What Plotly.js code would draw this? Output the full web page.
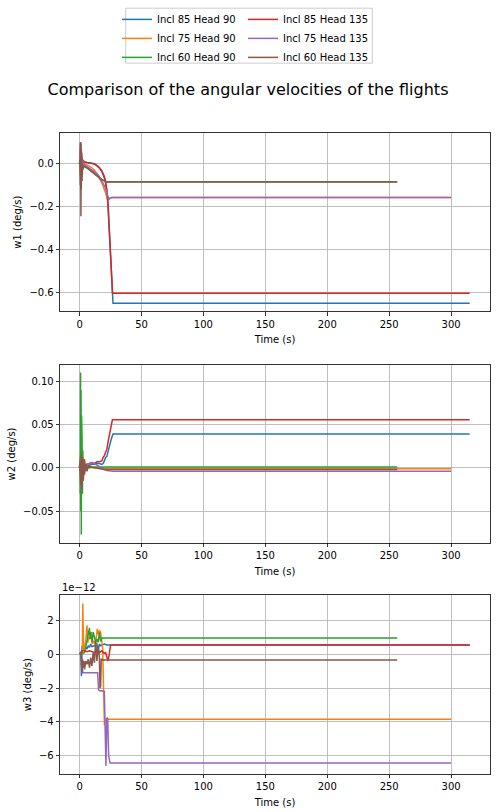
<!DOCTYPE html>
<html>
<head>
<meta charset="utf-8">
<script src="https://cdn.plot.ly/plotly-3.0.1.min.js"></script>
<style>
  html, body { margin: 0; padding: 0; background: #fff; }
  #chart { width: 496px; height: 812px; }
</style>
</head>
<body>
<div id="chart"></div>
<script>
/* values, one time array per curve */

const seriesNames = [
  'Incl 85 Head 90', 'Incl 75 Head 90', 'Incl 60 Head 90',
  'Incl 85 Head 135', 'Incl 75 Head 135', 'Incl 60 Head 135',
];
const seriesColors = ['#1f77b4', '#ff7f0e', '#2ca02c', '#d62728', '#9467bd', '#8c564b'];

// w1 (deg/s)
const w1Time85H90 = [0, 0.5, 0.9, 1.2, 1.5, 1.9, 2.4, 3, 4, 6, 8, 10, 12, 14, 16, 18, 20, 21, 22, 23, 24, 25, 26, 27, 315];
const w1Val85H90 = [0, 0.02, 0.09, -0.08, 0.05, -0.04, 0.02, 0.01, 0.008, 0.006, 0.004, 0.003, 0, -0.008, -0.018, -0.035, -0.065, -0.09, -0.13, -0.2, -0.31, -0.43, -0.55, -0.65, -0.65];
const w1Time75H90 = [0, 0.5, 1.0, 1.3, 1.6, 2.0, 2.5, 3, 4, 6, 8, 10, 12, 14, 16, 18, 20, 22, 23, 24, 25, 27, 300];
const w1Val75H90 = [0, 0.03, 0.09, -0.1, 0.04, -0.05, 0.01, 0, 0, -0.005, -0.012, -0.02, -0.03, -0.045, -0.065, -0.09, -0.12, -0.155, -0.17, -0.165, -0.16, -0.158, -0.158];
const w1Time60H90 = [0, 0.3, 0.6, 0.9, 1.1, 1.3, 1.5, 1.7, 2.0, 2.3, 2.7, 3.2, 4, 6, 8, 10, 12, 14, 16, 18, 20, 21.5, 256.5];
const w1Val60H90 = [0, 0.01, -0.05, 0.06, -0.12, 0.04, -0.06, 0.01, -0.03, -0.005, -0.015, -0.01, -0.012, -0.018, -0.028, -0.038, -0.048, -0.057, -0.065, -0.073, -0.08, -0.084, -0.084];
const w1Time85H135 = [0, 0.4, 0.8, 1.1, 1.4, 1.7, 2.0, 2.4, 3, 4, 6, 8, 10, 12, 14, 16, 18, 20, 21, 22, 23, 24, 25, 26, 26.6, 315];
const w1Val85H135 = [0, 0.01, 0.1, -0.12, 0.07, -0.06, 0.03, 0, 0.015, 0.008, 0.005, 0.003, 0.002, -0.002, -0.01, -0.02, -0.035, -0.06, -0.085, -0.12, -0.19, -0.3, -0.42, -0.54, -0.603, -0.603];
const w1Time75H135 = [0, 0.4, 0.8, 1.1, 1.4, 1.8, 2.2, 3, 4, 6.6, 9, 12, 15.3, 18, 20.6, 22.5, 23.6, 24.5, 25.5, 300];
const w1Val75H135 = [0, 0.02, 0.1, -0.09, 0.06, -0.04, 0.02, 0.003, -0.005, -0.016, -0.025, -0.038, -0.054, -0.08, -0.109, -0.145, -0.165, -0.16, -0.157, -0.157];
const w1Time60H135 = [0, 0.3, 0.6, 0.9, 1.1, 1.3, 1.5, 1.7, 2.0, 2.3, 2.7, 3.2, 4, 6, 8, 10, 12, 14, 16, 18, 20, 21.5, 256.5];
const w1Val60H135 = [0, 0.02, -0.1, 0.1, -0.245, 0.07, -0.15, 0.03, -0.08, 0, -0.03, -0.01, -0.015, -0.02, -0.03, -0.04, -0.05, -0.058, -0.066, -0.074, -0.081, -0.085, -0.085];

// w2 (deg/s)
const w2Time85H90 = [0, 0.5, 1, 1.5, 2, 2.5, 3, 4, 6, 8, 10, 12, 14, 16, 18, 19, 20, 21, 22, 23, 24, 25, 26, 27, 315];
const w2Val85H90 = [0, 0.005, -0.01, 0.01, -0.008, 0.005, 0, 0.002, 0.003, 0.003, 0.004, 0.004, 0.005, 0.005, 0.004, 0.005, 0.008, 0.012, 0.013, 0.02, 0.025, 0.03, 0.035, 0.039, 0.039];
const w2Time75H90 = [0, 0.5, 1, 1.5, 2, 2.5, 3, 4, 5, 6, 8, 10, 15, 20, 25, 300];
const w2Val75H90 = [0, 0.015, -0.02, 0.02, -0.01, 0.008, -0.005, 0.01, 0.003, 0.002, 0.001, 0, 0, -0.001, -0.001, -0.001];
const w2Time60H90 = [0, 0.3, 0.6, 0.8, 1.0, 1.2, 1.4, 1.6, 1.8, 2.0, 2.3, 2.6, 3, 3.5, 4, 5, 6, 8, 10, 15, 20, 25, 256.5];
const w2Val60H90 = [0, 0.01, -0.03, 0.11, -0.05, 0.09, -0.077, 0.06, -0.05, 0.038, -0.03, 0.02, -0.015, 0.01, -0.005, 0.004, -0.002, 0.002, 0.001, 0.001, 0.001, 0.001, 0.001];
const w2Time85H135 = [0, 0.5, 1, 1.5, 2, 2.5, 3, 4, 6, 8, 10, 12, 14, 16, 18, 19, 20, 21, 22, 23, 24, 25, 26, 26.5, 315];
const w2Val85H135 = [0, 0.005, -0.012, 0.01, -0.005, 0.004, 0.002, 0.003, 0.004, 0.005, 0.006, 0.005, 0.007, 0.007, 0.008, 0.012, 0.014, 0.018, 0.021, 0.03, 0.038, 0.045, 0.052, 0.0555, 0.0555];
const w2Time75H135 = [0, 0.5, 1, 1.5, 2, 2.5, 3, 4, 5, 6, 8, 10, 12, 15, 18, 20, 22, 25, 27, 300];
const w2Val75H135 = [0, 0.01, -0.01, 0.005, -0.027, 0.006, -0.01, 0.003, -0.002, 0.004, 0.005, 0.006, 0.005, 0.002, 0, -0.002, -0.003, -0.004, -0.004, -0.004];
const w2Time60H135 = [0, 0.5, 1, 1.5, 2, 2.5, 3, 3.5, 4, 5, 6, 7, 8, 10, 12, 15, 20, 25, 256.5];
const w2Val60H135 = [0, 0.008, -0.02, 0.015, -0.025, 0.012, -0.015, 0.01, -0.008, 0.005, -0.004, 0.003, 0, 0.001, 0, -0.001, -0.002, -0.002, -0.002];

// w3 in units of 1e-12 deg/s
const w3Time85H90 = [0, 1, 1.5, 2, 2.5, 3, 4, 5, 6, 7, 8, 9, 10, 12, 14, 15, 16, 17, 18, 20, 22, 315];
const w3Val85H90 = [0, 0.1, -1.3, 0.5, 0.2, 0.4, 0.35, 0.4, 0.3, 0.5, 0.4, 0.6, 0.45, 0.5, 0.6, 0.2, 0.6, 0.5, 0.55, 0.6, 0.55, 0.55];
const w3Time75H90 = [0, 1.5, 2.3, 2.6, 3.2, 4, 5, 6, 6.7, 7.5, 8.5, 9.3, 10.5, 11.5, 12.5, 13.5, 14.3, 15, 16, 17, 18, 18.7, 19.5, 20.1, 21, 300];
const w3Val75H90 = [0, 0.1, 0.2, 3.0, 0.4, 0.3, 0.8, 1.7, 0.7, 1.0, 0.9, 1.3, 0.6, 0.8, 0.6, 1.0, 1.5, 1.2, 1.4, 1.3, 0.5, 0.3, -2.5, -4.2, -3.85, -3.85];
const w3Time60H90 = [0, 2, 3, 4, 5, 6, 7, 8, 8.5, 9, 10, 11, 12, 13, 14, 15, 16, 17, 18, 256.5];
const w3Val60H90 = [0, 0.1, 0.05, 0.1, 0.4, 0.8, 1.2, 1.55, 0.9, 1.3, 0.7, 1.3, 1.0, 0.7, 0.9, 0.7, 1.3, 0.75, 0.96, 0.96];
const w3Time85H135 = [0, 1, 2, 4, 6, 8, 10, 12, 14, 15, 16, 17, 18, 19, 20, 21, 22, 23, 24, 25, 26, 315];
const w3Val85H135 = [0, 0.1, 0.2, 0.2, 0.15, 0.2, 0.15, 0.1, 0.2, 0.3, 0.1, 0.15, 0.2, 0.1, 0.05, 0.1, -0.2, -0.4, 0, 0.55, 0.55, 0.55];
const w3Time75H135 = [0, 1.5, 2.6, 14.6, 15.3, 16, 20, 20.5, 21.3, 22, 22.7, 23.5, 24.6, 300];
const w3Val75H135 = [0, 0, -1.1, -1.1, -2.1, -2.15, -2.2, -4.5, -6.6, -3.75, -3.8, -6.0, -6.43, -6.43];
const w3Time60H135 = [0, 1, 2, 2.5, 3, 3.5, 4, 5, 6, 7, 8, 9, 10, 11, 12, 13, 14, 15, 16, 16.5, 17, 17.5, 18, 19, 20, 256.5];
const w3Val60H135 = [0, 0.1, -1.1, -0.3, -0.8, -0.4, -0.9, -0.4, -0.6, -0.3, -0.8, -0.2, -0.7, 0.1, -0.5, 0.8, -0.4, 0.5, -0.2, -2.0, -1.9, -0.3, -0.3, -0.35, -0.34, -0.34];

const w1Times = [w1Time85H90, w1Time75H90, w1Time60H90, w1Time85H135, w1Time75H135, w1Time60H135];
const w1Vals = [w1Val85H90, w1Val75H90, w1Val60H90, w1Val85H135, w1Val75H135, w1Val60H135];
const w2Times = [w2Time85H90, w2Time75H90, w2Time60H90, w2Time85H135, w2Time75H135, w2Time60H135];
const w2Vals = [w2Val85H90, w2Val75H90, w2Val60H90, w2Val85H135, w2Val75H135, w2Val60H135];
const w3Times = [w3Time85H90, w3Time75H90, w3Time60H90, w3Time85H135, w3Time75H135, w3Time60H135];
const w3Vals = [w3Val85H90, w3Val75H90, w3Val60H90, w3Val85H135, w3Val75H135, w3Val60H135];

const FONT = 'DejaVu Sans, Liberation Sans, sans-serif';

const panels = [
  { times: w1Times, vals: w1Vals, axis: '' },
  { times: w2Times, vals: w2Vals, axis: '2' },
  { times: w3Times, vals: w3Vals, axis: '3' },
];

const traces = [];
panels.forEach((panel, p) => {
  seriesNames.forEach((name, i) => {
    traces.push({
      x: panel.times[i],
      y: panel.vals[i],
      type: 'scatter',
      mode: 'lines',
      name,
      line: { color: seriesColors[i], width: 1.5 },
      xaxis: `x${panel.axis}`,
      yaxis: `y${panel.axis}`,
      showlegend: p === 0,
      // first column of the legend holds Head 90, second holds Head 135
      legend: i < 3 ? 'legend' : 'legend2',
    });
  });
});

function xAxis(anchor) {
  return {
    anchor,
    range: [-15.8, 331.4],
    tickvals: [0, 50, 100, 150, 200, 250, 300],
    showgrid: true,
    gridcolor: '#b0b0b0',
    gridwidth: 0.8,
    zeroline: false,
    showline: true,
    mirror: true,
    linecolor: '#000',
    linewidth: 0.8,
    ticks: 'outside',
    ticklen: 3.5,
    tickwidth: 0.8,
    tickcolor: '#000',
    tickfont: { family: FONT, size: 10, color: '#000' },
    automargin: true,
    title: { text: 'Time (s)', font: { family: FONT, size: 10, color: '#000' }, standoff: 7 },
  };
}

function yAxis(anchor, domain, range, dtick, fmt, label) {
  return {
    anchor,
    domain,
    range,
    dtick,
    tick0: 0,
    tickformat: fmt,
    showgrid: true,
    gridcolor: '#b0b0b0',
    gridwidth: 0.8,
    zeroline: false,
    showline: true,
    mirror: true,
    linecolor: '#000',
    linewidth: 0.8,
    ticks: 'outside',
    ticklen: 3.5,
    tickwidth: 0.8,
    tickcolor: '#000',
    tickfont: { family: FONT, size: 10, color: '#000' },
    automargin: true,
    title: { text: label, font: { family: FONT, size: 10, color: '#000' }, standoff: 5 },
  };
}

const legendCommon = {
  orientation: 'v',
  yanchor: 'top',
  xanchor: 'left',
  y: 1.198,
  bgcolor: 'rgba(0,0,0,0)',
  borderwidth: 0,
  font: { family: FONT, size: 10, color: '#000' },
  tracegroupgap: 0,
};

const layout = {
  width: 496,
  height: 812,
  paper_bgcolor: '#fff',
  plot_bgcolor: '#fff',
  margin: { l: 60, r: 6, t: 132, b: 38 },
  font: { family: FONT, size: 10, color: '#000' },
  title: {
    text: 'Comparison of the angular velocities of the flights',
    font: { family: FONT, size: 16, color: '#000' },
    x: 0.5,
    xref: 'container',
    xanchor: 'center',
    y: 1 - 89 / 812,
    yref: 'container',
    yanchor: 'middle',
  },
  xaxis: xAxis('y'),
  xaxis2: xAxis('y2'),
  xaxis3: xAxis('y3'),
  yaxis: yAxis('x', [0.7217, 1], [-0.688, 0.143], 0.2, '.1f', 'w1 (deg/s)'),
  yaxis2: yAxis('x2', [0.3609, 0.6376], [-0.0864, 0.1184], 0.05, '.2f', 'w2 (deg/s)'),
  yaxis3: yAxis('x3', [0, 0.2788], [-7.08, 3.48], 2, 'd', 'w3 (deg/s)'),
  legend: Object.assign({}, legendCommon, { x: 0.1326 }),
  legend2: Object.assign({}, legendCommon, { x: 0.4256 }),
  shapes: [{
    type: 'rect',
    xref: 'paper',
    yref: 'paper',
    x0: 0.1528,
    x1: 0.7263,
    y0: 1.109,
    y1: 1.1947,
    line: { color: '#cccccc', width: 1 },
    fillcolor: 'rgba(255,255,255,0.8)',
    layer: 'below',
  }],
  annotations: [{
    text: '1e\u221212',
    xref: 'paper',
    yref: 'paper',
    x: 0,
    y: 0.2788,
    xanchor: 'left',
    yanchor: 'bottom',
    showarrow: false,
    font: { family: FONT, size: 10, color: '#000' },
  }],
  showlegend: true,
};

Plotly.newPlot('chart', traces, layout, { staticPlot: true, displayModeBar: false });
</script>
</body>
</html>
